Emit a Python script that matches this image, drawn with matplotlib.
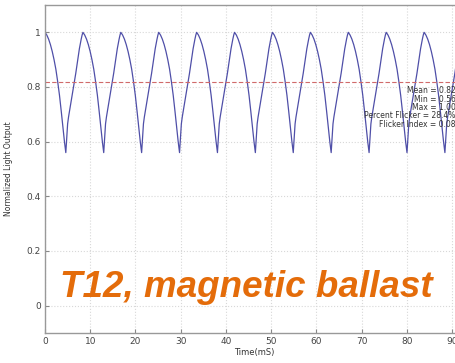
import numpy as np
import matplotlib.pyplot as plt

# one flicker cycle (ms, normalized output)
cycle_t = [0, 0.4, 0.8, 1.2, 1.6, 2.0, 2.4, 2.8, 3.2, 3.6, 4.0, 4.3, 4.6, 4.8, 5.0,
           5.2, 5.6, 6.0, 6.4, 6.8, 7.2, 7.6, 8.0, 8.2, 8.38]
cycle_v = [1.0, 0.99, 0.975, 0.955, 0.93, 0.90, 0.865, 0.82, 0.77, 0.71, 0.645, 0.60, 0.56, 0.61, 0.665,
           0.69, 0.73, 0.77, 0.81, 0.85, 0.895, 0.94, 0.975, 0.99, 1.0]
period = 8.38
n_cycles = 11
t_end = 92.4

mean_val = 0.82
stats = ['Mean = 0.82', 'Min = 0.56', 'Max = 1.00',
         'Percent Flicker = 28.4%', 'Flicker Index = 0.08']

# repeat the cycle along the record
t = np.concatenate([np.array(cycle_t[:-1]) + k * period for k in range(n_cycles + 1)])
v = np.tile(cycle_v[:-1], n_cycles + 1)
keep = t <= t_end
t, v = t[keep], v[keep]

fig = plt.figure(figsize=(4.55, 3.63), dpi=100)
ax = fig.add_axes([45 / 455, 30 / 363, 418 / 455, 328 / 363])

ax.plot(t, v, color='#4f4fa8', lw=0.9)
ax.axhline(mean_val, color='#d06a6a', lw=0.8, ls=(0, (4, 2)))

ax.set_xlim(0, t_end)
ax.set_ylim(-0.1, 1.1)
ax.set_xticks(np.arange(0, 100, 10))
ax.set_yticks([0, 0.2, 0.4, 0.6, 0.8, 1])
ax.set_yticklabels(['0', '0.2', '0.4', '0.6', '0.8', '1'])
ax.grid(True, color='#d8d8d8', ls=':', lw=0.8)
ax.tick_params(direction='in', length=3, labelsize=6.5, colors='#888888', labelcolor='#444444', pad=3)
for s in ax.spines.values():
    s.set_color('#999999')
    s.set_linewidth(1.0)

ax.set_xlabel('Time(mS)', fontsize=6, color='#333333', labelpad=1)
ax.set_ylabel('Normalized Light Output', fontsize=5.5, color='#333333', labelpad=10)

for i, s in enumerate(stats):
    ax.text(90.8, 0.786 - i * 0.0306, s, fontsize=5.5, ha='right', va='center', color='#333333')

fig.text(60 / 455, 66 / 363, 'T12, magnetic ballast', fontsize=26.5, fontweight='bold',
         fontstyle='italic', family='Liberation Sans', color='#e46c0a')

fig.savefig('out.png', dpi=100)
